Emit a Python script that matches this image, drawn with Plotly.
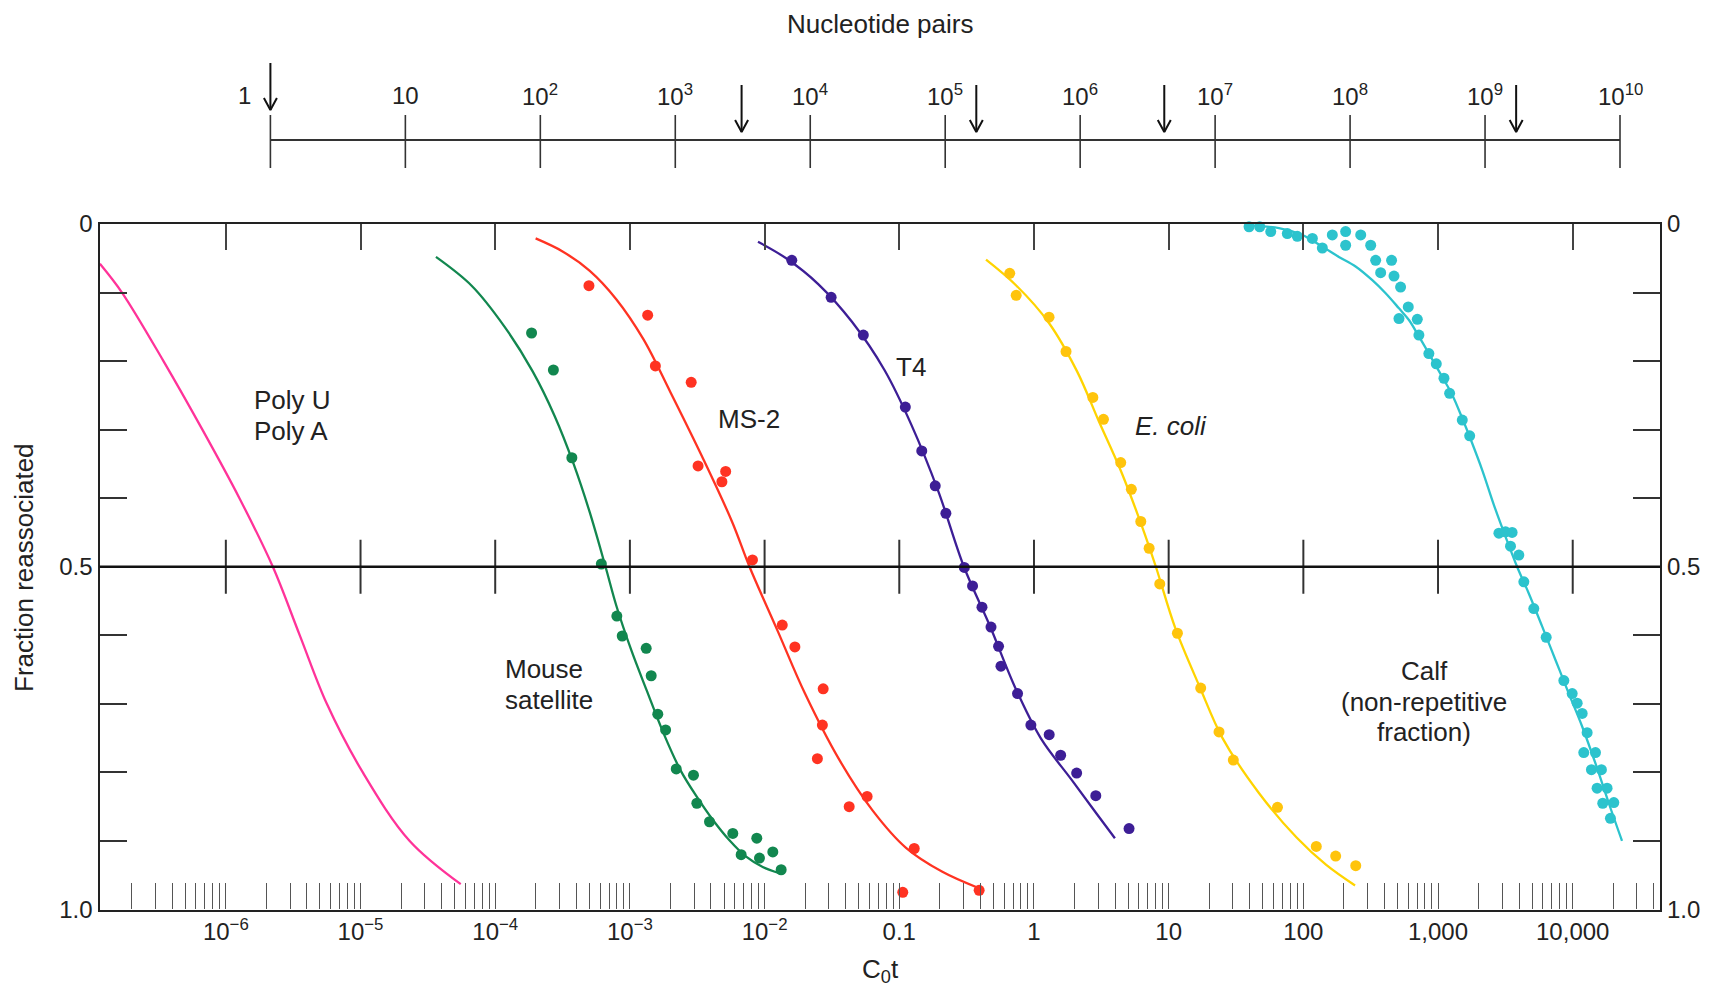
import numpy as np
import plotly.graph_objects as go

W, H = 1714, 988

polyUA_line_logcot = [-6.935, -6.771, -6.463, -6.174, -5.899, -5.651, -5.451, -5.250, -4.983, -4.635, -4.256]
polyUA_line_frac = [0.058, 0.100, 0.200, 0.300, 0.400, 0.500, 0.600, 0.700, 0.800, 0.900, 0.963]

mouse_line_logcot = [-4.440, -4.175, -3.930, -3.722, -3.559, -3.418, -3.299, -3.181, -3.099, -2.991, -2.876,
                     -2.750, -2.624, -2.505, -2.385, -2.261, -2.137, -2.014, -1.890]
mouse_line_frac = [0.048, 0.090, 0.150, 0.215, 0.280, 0.350, 0.420, 0.500, 0.558, 0.621, 0.680,
                   0.743, 0.797, 0.835, 0.869, 0.899, 0.923, 0.938, 0.947]
mouse_pts_logcot = [-3.730, -3.568, -3.431, -3.212, -3.097, -3.057, -2.879, -2.842, -2.793, -2.735, -2.656,
                    -2.528, -2.503, -2.409, -2.236, -2.174, -2.058, -2.038, -1.939, -1.877]
mouse_pts_frac = [0.159, 0.213, 0.341, 0.496, 0.572, 0.601, 0.619, 0.659, 0.715, 0.738, 0.795,
                  0.804, 0.845, 0.872, 0.889, 0.920, 0.896, 0.925, 0.916, 0.942]

ms2_line_logcot = [-3.70, -3.50, -3.30, -3.10, -2.90, -2.70, -2.45, -2.24, -2.112, -1.90, -1.70, -1.45,
                   -1.20, -0.95, -0.68, -0.407]
ms2_line_frac = [0.021, 0.040, 0.068, 0.110, 0.168, 0.245, 0.345, 0.435, 0.500, 0.595, 0.685, 0.780,
                 0.855, 0.910, 0.945, 0.969]
ms2_pts_logcot = [-3.304, -2.868, -2.811, -2.545, -2.494, -2.289, -2.317, -2.090, -1.869, -1.775, -1.565,
                  -1.571, -1.608, -1.239, -1.372, -0.889, -0.974, -0.407]
ms2_pts_frac = [0.090, 0.133, 0.207, 0.231, 0.353, 0.361, 0.376, 0.490, 0.585, 0.617, 0.678,
                0.731, 0.780, 0.835, 0.850, 0.911, 0.975, 0.972]

t4_line_logcot = [-2.049, -1.84, -1.60, -1.35, -1.11, -0.91, -0.71, -0.52, -0.33, -0.14, 0.05, 0.28, 0.464, 0.601]
t4_line_frac = [0.026, 0.050, 0.088, 0.143, 0.213, 0.293, 0.390, 0.500, 0.585, 0.676, 0.750, 0.811, 0.860, 0.896]
t4_pts_logcot = [-1.798, -1.506, -1.267, -0.955, -0.833, -0.733, -0.654, -0.517, -0.456, -0.386, -0.319,
                 -0.263, -0.245, -0.122, -0.023, 0.113, 0.198, 0.317, 0.459, 0.706]
t4_pts_frac = [0.053, 0.107, 0.162, 0.267, 0.331, 0.382, 0.422, 0.501, 0.528, 0.559, 0.588,
               0.616, 0.645, 0.685, 0.731, 0.745, 0.775, 0.801, 0.834, 0.882]

ecoli_line_logcot = [-0.356, -0.13, 0.11, 0.32, 0.48, 0.645, 0.80, 0.905, 1.05, 1.23, 1.40, 1.67, 1.95, 2.17, 2.384]
ecoli_line_frac = [0.052, 0.090, 0.144, 0.215, 0.287, 0.360, 0.440, 0.500, 0.590, 0.675, 0.750, 0.830, 0.895,
                   0.935, 0.965]
ecoli_pts_logcot = [-0.180, -0.132, 0.112, 0.238, 0.437, 0.516, 0.644, 0.723, 0.793, 0.855, 0.934,
                    1.065, 1.238, 1.374, 1.480, 1.808, 2.096, 2.240, 2.389]
ecoli_pts_frac = [0.072, 0.104, 0.136, 0.186, 0.253, 0.285, 0.348, 0.387, 0.434, 0.473, 0.525,
                  0.597, 0.677, 0.741, 0.782, 0.851, 0.908, 0.922, 0.936]

calf_line_logcot = [1.572, 1.819, 1.992, 2.141, 2.264, 2.388, 2.512, 2.611, 2.710, 2.784, 2.858, 2.932,
                    3.031, 3.105, 3.179, 3.25, 3.33, 3.415, 3.501, 3.587, 3.674, 3.773, 3.872, 3.971,
                    4.070, 4.169, 4.268, 4.366]
calf_line_frac = [0.002, 0.006, 0.016, 0.033, 0.048, 0.062, 0.082, 0.101, 0.123, 0.140, 0.164, 0.189,
                  0.223, 0.249, 0.283, 0.318, 0.360, 0.410, 0.456, 0.500, 0.539, 0.587, 0.636, 0.685,
                  0.733, 0.787, 0.845, 0.900]
calf_pts_logcot = [1.597, 1.676, 1.758, 1.832, 1.881, 1.938, 1.955, 2.055, 2.067, 2.141, 2.215, 2.314,
                   2.314, 2.426, 2.500, 2.537, 2.655, 2.574, 2.673, 2.722, 2.779, 2.710, 2.846, 2.858,
                   2.932, 2.987, 3.044, 3.086, 3.180, 3.235, 3.452, 3.501, 3.550, 3.538, 3.600, 3.637,
                   3.711, 3.803, 3.934, 3.996, 4.033, 4.070, 4.107, 4.082, 4.169, 4.139, 4.213, 4.181,
                   4.255, 4.223, 4.305, 4.280]
calf_pts_frac = [0.004, 0.004, 0.011, -0.003, 0.014, -0.003, 0.018, -0.001, 0.021, 0.035, 0.016, 0.011,
                 0.031, 0.016, 0.031, 0.053, 0.053, 0.071, 0.076, 0.092, 0.121, 0.138, 0.139, 0.162,
                 0.189, 0.204, 0.225, 0.247, 0.286, 0.309, 0.451, 0.449, 0.450, 0.470, 0.483, 0.522,
                 0.561, 0.603, 0.666, 0.685, 0.699, 0.714, 0.742, 0.771, 0.771, 0.796, 0.796, 0.823,
                 0.823, 0.845, 0.844, 0.867]

# C0t axis tick labels (decades)
cot_decades = [-6, -5, -4, -3, -2, -1, 0, 1, 2, 3, 4]
cot_labels = ["10<sup>\u22126</sup>", "10<sup>\u22125</sup>", "10<sup>\u22124</sup>", "10<sup>\u22123</sup>",
              "10<sup>\u22122</sup>", "0.1", "1", "10", "100", "1,000", "10,000"]

# Nucleotide-pairs scale
np_decades = list(range(0, 11))
np_labels = ["1", "10", "10<sup>2</sup>", "10<sup>3</sup>", "10<sup>4</sup>", "10<sup>5</sup>",
             "10<sup>6</sup>", "10<sup>7</sup>", "10<sup>8</sup>", "10<sup>9</sup>", "10<sup>10</sup>"]
arrow_np = [1, 3.1e3, 1.7e5, 4.2e6, 1.7e9]

frac_major = [0, 0.5, 1.0]
frac_major_labels = ["0", "0.5", "1.0"]
frac_minor = [0.1, 0.2, 0.3, 0.4, 0.6, 0.7, 0.8, 0.9]

# ---------------- layout geometry (pixels) ----------------
X0, X1 = 99.5, 1660.0
Y0, Y1 = 224.0, 909.5
XR = [-6.938, 4.648]
NPX0, NPX1 = 270.4, 1620.0          # pixel position of 1 and 1e10 nucleotide pairs
NP_PX_PER_DEC = (NPX1 - NPX0) / (np_decades[-1] - np_decades[0])
NP_PAD = 0.6                        # extra decades of room on both sides of the scale
NP_RANGE = [np_decades[0] - NP_PAD, np_decades[-1] + NP_PAD]
NP_DOM = [NPX0 - NP_PAD * NP_PX_PER_DEC, NPX1 + NP_PAD * NP_PX_PER_DEC]


def pxx(p):
    return p / W


def pxy(p):
    return 1 - p / H


FONT = "Liberation Sans, Arial, Helvetica, sans-serif"
TXT = "#222222"
LAB = 26

fig = go.Figure()

series = [
    ("Poly U / Poly A", polyUA_line_logcot, polyUA_line_frac, None, None, "#ff3399", None),
    ("Mouse satellite", mouse_line_logcot, mouse_line_frac, mouse_pts_logcot, mouse_pts_frac, "#12874f", "#12874f"),
    ("MS-2", ms2_line_logcot, ms2_line_frac, ms2_pts_logcot, ms2_pts_frac, "#ff3322", "#ff3322"),
    ("T4", t4_line_logcot, t4_line_frac, t4_pts_logcot, t4_pts_frac, "#3d1e96", "#3d1e96"),
    ("E. coli", ecoli_line_logcot, ecoli_line_frac, ecoli_pts_logcot, ecoli_pts_frac, "#ffd400", "#ffc40c"),
    ("Calf", calf_line_logcot, calf_line_frac, calf_pts_logcot, calf_pts_frac, "#2cc3cd", "#2cc3cd"),
]

for name, lx, ly, px, py, lc, mc in series:
    fig.add_trace(go.Scatter(x=10 ** np.array(lx), y=ly, mode="lines", name=name,
                             line=dict(color=lc, width=2.3, shape="spline", smoothing=1.0),
                             hoverinfo="skip", cliponaxis=True))

for name, lx, ly, px, py, lc, mc in series:
    if px is None:
        continue
    fig.add_trace(go.Scatter(x=10 ** np.array(px), y=py, mode="markers", name=name + " data",
                             marker=dict(color=mc, size=11, line=dict(width=0)),
                             cliponaxis=False))

# ticks crossing the 0.5 line
mx, my = [], []
for d in cot_decades:
    mx += [10.0 ** d, 10.0 ** d, None]
    my += [0.5 - 0.0394, 0.5 + 0.0394, None]
fig.add_trace(go.Scatter(x=mx, y=my, mode="lines", line=dict(color="#333333", width=2),
                         hoverinfo="skip", showlegend=False))

# dummy traces to make overlay axes render
fig.add_trace(go.Scatter(x=[1.0], y=[0.5], xaxis="x3", yaxis="y", mode="markers",
                         marker=dict(opacity=0), hoverinfo="skip"))
fig.add_trace(go.Scatter(x=[1.0], y=[0.5], xaxis="x", yaxis="y3", mode="markers",
                         marker=dict(opacity=0), hoverinfo="skip"))

# nucleotide pair scale (top)
fig.add_trace(go.Scatter(x=[10.0 ** np_decades[0], 10.0 ** np_decades[-1]], y=[140, 140], xaxis="x2", yaxis="y2",
                         mode="lines", line=dict(color="#333333", width=2), hoverinfo="skip"))
tx, ty = [], []
for d in np_decades:
    tx += [10.0 ** d, 10.0 ** d, None]
    ty += [115, 168, None]
fig.add_trace(go.Scatter(x=tx, y=ty, xaxis="x2", yaxis="y2", mode="lines",
                         line=dict(color="#333333", width=1.6), hoverinfo="skip"))

# arrows (shaft + open V head) marking each genome size
head_dx = 6.5 / NP_PX_PER_DEC   # half-width of arrow head in decades
ax_, ay_ = [], []
for i, v in enumerate(arrow_np):
    tip = 110 if i == 0 else 132
    tail = tip - 47
    ax_ += [v, v, None, v * 10 ** (-head_dx), v, v * 10 ** head_dx, None]
    ay_ += [tail, tip, None, tip - 12, tip, tip - 12, None]
fig.add_trace(go.Scatter(x=ax_, y=ay_, xaxis="x2", yaxis="y2", mode="lines",
                         line=dict(color="#111111", width=2), hoverinfo="skip"))

annotations = []
for i, (d, lab) in enumerate(zip(np_decades, np_labels)):
    annotations.append(dict(x=d, y=95, xref="x2", yref="y2", text=lab, showarrow=False,
                            xanchor="center", yanchor="middle", xshift=(-26 if i == 0 else 0),
                            font=dict(family=FONT, size=24, color=TXT)))


def label(text, x, y, anchor="center", angle=0):
    return dict(x=pxx(x), y=pxy(y), xref="paper", yref="paper", text=text, showarrow=False,
                textangle=angle, xanchor=anchor, yanchor="middle",
                font=dict(family=FONT, size=LAB, color=TXT))


annotations += [
    label("Nucleotide pairs", 880, 24),
    label("Fraction reassociated", 24, 568, angle=-90),
    label("C<sub>0</sub>t", 880, 970),
    label("Poly U", 252, 400, "left"),
    label("Poly A", 252, 431, "left"),
    label("Mouse", 503, 669, "left"),
    label("satellite", 503, 700, "left"),
    label("MS-2", 749, 419),
    label("T4", 911, 367),
    label("<i>E. coli</i>", 1171, 426),
    label("Calf", 1424, 671),
    label("(non-repetitive", 1424, 702),
    label("fraction)", 1424, 732),
]

# bottom axis: minor ticks at 2..9 x decade inside range
minor_vals = []
for d in range(-7, 5):
    for m in range(2, 10):
        v = m * 10.0 ** d
        if XR[0] <= np.log10(v) <= XR[1]:
            minor_vals.append(v)

axis_common = dict(showgrid=False, zeroline=False, showline=True, linecolor="#222222", linewidth=2.2,
                   automargin=False)

fig.update_layout(
    width=W, height=H, margin=dict(l=0, r=0, t=0, b=0, pad=0, autoexpand=False),
    paper_bgcolor="white", plot_bgcolor="white", showlegend=False,
    font=dict(family=FONT, size=24, color=TXT),
    xaxis=dict(type="log", range=XR, domain=[pxx(X0), pxx(X1)], anchor="y", side="bottom",
               ticks="inside", ticklen=26, tickwidth=1.4, tickcolor="#555555",
               tickmode="array", tickvals=[10.0 ** d for d in cot_decades], ticktext=cot_labels,
               tickfont=dict(size=24, color=TXT), ticklabelstandoff=0,
               minor=dict(ticks="inside", ticklen=26, tickwidth=1.4, tickcolor="#555555",
                          tickmode="array", tickvals=minor_vals, showgrid=False),
               **axis_common),
    xaxis3=dict(type="log", range=XR, overlaying="x", anchor="y", side="top",
                ticks="inside", ticklen=26, tickwidth=1.8, tickcolor="#444444",
                tickmode="array", tickvals=[10.0 ** d for d in cot_decades], showticklabels=False,
                **axis_common),
    yaxis=dict(range=[1, 0], domain=[pxy(Y1), pxy(Y0)], anchor="x", side="left",
               ticks="inside", ticklen=27, tickwidth=1.8, tickcolor="#333333",
               tickmode="array", tickvals=frac_major, ticktext=frac_major_labels,
               tickfont=dict(size=24, color=TXT),
               minor=dict(ticks="inside", ticklen=27, tickwidth=1.8, tickcolor="#333333",
                          tickmode="array", tickvals=frac_minor, showgrid=False),
               **axis_common),
    yaxis3=dict(range=[1, 0], overlaying="y", anchor="x", side="right",
                ticks="inside", ticklen=27, tickwidth=1.8, tickcolor="#333333",
                tickmode="array", tickvals=frac_major, ticktext=frac_major_labels,
                tickfont=dict(size=24, color=TXT),
                minor=dict(ticks="inside", ticklen=27, tickwidth=1.8, tickcolor="#333333",
                           tickmode="array", tickvals=frac_minor, showgrid=False),
                **axis_common),
    xaxis2=dict(type="log", range=NP_RANGE, domain=[pxx(NP_DOM[0]), pxx(NP_DOM[1])],
                anchor="y2", visible=False, automargin=False),
    yaxis2=dict(range=[185, 45], domain=[pxy(185), pxy(45)], anchor="x2", visible=False, automargin=False),
    annotations=annotations,
    shapes=[dict(type="line", xref="paper", yref="y", x0=pxx(X0), x1=pxx(X1), y0=0.5, y1=0.5,
                 line=dict(color="#111111", width=2.4))],
)

fig.write_html("out.html")
